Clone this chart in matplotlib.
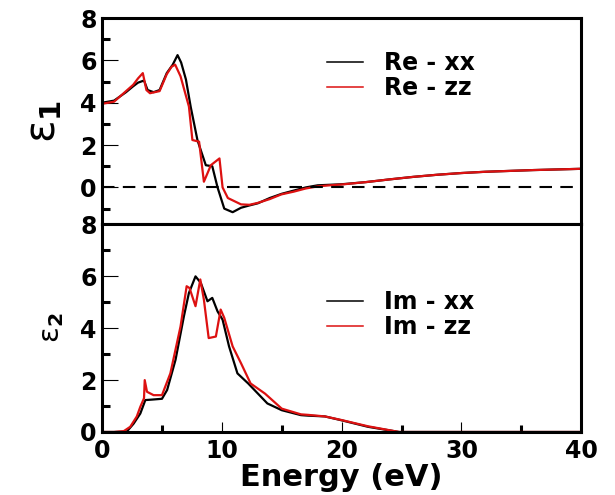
import numpy as np
import matplotlib
matplotlib.use('Agg')
import matplotlib.pyplot as plt
from matplotlib.ticker import MultipleLocator

# real part (epsilon_1)
re_xx_e = [0, 1, 1.5, 2, 2.6, 3.0, 3.5, 3.8, 4.3, 4.8, 5.4, 5.9, 6.3, 6.6, 7.0, 7.4, 7.96,
           8.24, 8.66, 9.2, 9.64, 10.2, 10.9, 11.6, 12.3, 13, 14, 15, 16, 17, 18, 20, 22,
           24, 26, 28, 30, 32, 34, 36, 38, 40]
re_xx = [4.0, 4.1, 4.3, 4.5, 4.78, 4.95, 5.05, 4.6, 4.5, 4.6, 5.4, 5.8, 6.25, 5.9, 5.1, 3.8,
         2.24, 1.76, 1.05, 1.0, 0.0, -1.0, -1.17, -0.96, -0.85, -0.75, -0.5, -0.3, -0.15,
         0.0, 0.1, 0.15, 0.25, 0.38, 0.5, 0.6, 0.68, 0.74, 0.78, 0.82, 0.85, 0.88]

re_zz_e = [0, 1, 1.5, 2, 2.6, 3.0, 3.4, 3.7, 4.0, 4.8, 5.4, 5.8, 6.1, 6.55, 7.25, 7.54, 8.1,
           8.5, 8.8, 9.08, 9.8, 10.06, 10.5, 11.6, 12.3, 13.0, 14.0, 14.96, 16, 17, 18, 19,
           20, 22, 24, 26, 28, 30, 32, 34, 36, 38, 40]
re_zz = [3.95, 4.05, 4.3, 4.55, 4.85, 5.15, 5.4, 4.6, 4.45, 4.55, 5.35, 5.7, 5.8, 5.25, 3.82,
         2.24, 2.16, 0.27, 0.67, 1.05, 1.37, 0.0, -0.5, -0.8, -0.82, -0.73, -0.55, -0.33,
         -0.2, -0.05, 0.05, 0.1, 0.14, 0.25, 0.38, 0.5, 0.6, 0.68, 0.74, 0.78, 0.82, 0.85, 0.88]

# imaginary part (epsilon_2)
im_xx_e = [0, 1, 2.07, 2.63, 3.19, 3.61, 4.2, 5.0, 5.43, 6.13, 6.83, 7.25, 7.8, 8.24, 8.8,
           9.2, 9.64, 10.06, 10.6, 11.3, 12.2, 13.8, 15.0, 16.6, 17.2, 18.6, 20, 22.2, 24.8,
           30, 35, 40]
im_xx = [0, 0, 0.02, 0.32, 0.71, 1.23, 1.25, 1.28, 1.62, 2.78, 4.46, 5.36, 6.0, 5.75, 5.04,
         5.17, 4.65, 4.33, 3.3, 2.26, 1.87, 1.1, 0.84, 0.65, 0.63, 0.6, 0.45, 0.2, 0.0,
         0, 0, 0]

im_zz_e = [0, 1, 1.8, 2.35, 2.9, 3.19, 3.5, 3.56, 3.75, 4.3, 5.0, 5.7, 6.55, 7.06, 7.3, 7.8,
           8.2, 8.5, 8.9, 9.5, 9.9, 10.2, 10.9, 11.6, 12.4, 13.6, 15, 16.6, 17.2, 18.6, 20,
           22.2, 24.8, 30, 35, 40]
im_zz = [0, 0, 0.03, 0.2, 0.6, 0.97, 1.3, 2.0, 1.55, 1.42, 1.42, 2.26, 4.07, 5.62, 5.55, 4.85,
         5.88, 5.1, 3.62, 3.68, 4.72, 4.4, 3.3, 2.65, 1.87, 1.48, 0.9, 0.68, 0.66, 0.6, 0.46,
         0.22, 0.0, 0, 0, 0]

red = '#dd1111'
plt.rcParams['font.family'] = 'DejaVu Sans'
plt.rcParams['font.weight'] = 'bold'

fig = plt.figure(figsize=(6.15, 4.95), dpi=100)
ax1 = fig.add_axes([0.166, 0.5465, 0.779, 0.417])
ax2 = fig.add_axes([0.166, 0.1273, 0.779, 0.4192])

ax1.plot(re_xx_e, re_xx, color='k', lw=1.6, label='Re - xx')
ax1.plot(re_zz_e, re_zz, color=red, lw=1.6, label='Re - zz')
ax1.axhline(0, color='k', lw=1.5, ls=(0, (6, 4)))
ax2.plot(im_xx_e, im_xx, color='k', lw=1.6, label='Im - xx')
ax2.plot(im_zz_e, im_zz, color=red, lw=1.6, label='Im - zz')

ax1.set_xlim(0, 40)
ax2.set_xlim(0, 40)
ax1.set_ylim(-1.75, 8)
ax2.set_ylim(0, 8)

for ax in (ax1, ax2):
    for s in ax.spines.values():
        s.set_linewidth(2.2)
    ax.yaxis.set_major_locator(MultipleLocator(2))
    ax.yaxis.set_minor_locator(MultipleLocator(1))
    ax.tick_params(axis='y', which='major', direction='in', length=11.5, width=0.8,
                   labelsize=17, pad=4, right=False)
    ax.tick_params(axis='y', which='minor', direction='in', length=6, width=2.2, right=False)

ax1.tick_params(axis='x', which='both', bottom=False, top=False, labelbottom=False)
ax2.xaxis.set_major_locator(MultipleLocator(10))
ax2.xaxis.set_minor_locator(MultipleLocator(5))
ax2.tick_params(axis='x', which='major', direction='in', length=7.5, width=0.8,
                labelsize=17, pad=5, top=False)
ax2.tick_params(axis='x', which='minor', direction='in', length=5, width=2.2, top=False)

ax2.set_xlabel('Energy (eV)', fontsize=22, fontweight='bold', labelpad=0)
ax1.set_ylabel('ε$_1$', fontsize=30)
ax2.set_ylabel('ε$_2$', fontsize=21)
ax1.yaxis.set_label_coords(-0.08, 0.5)
ax2.yaxis.set_label_coords(-0.075, 0.5)

for ax, y in ((ax1, 0.84), (ax2, 0.685)):
    leg = ax.legend(loc='upper left', bbox_to_anchor=(0.47, y), frameon=False,
                    fontsize=17, handlelength=1.5, handletextpad=0.9, labelspacing=0.05,
                    borderpad=0, borderaxespad=0)
    for ln in leg.get_lines():
        ln.set_linewidth(1.1)
    for t in leg.get_texts():
        t.set_fontweight('bold')

fig.savefig('out.png', dpi=100)
